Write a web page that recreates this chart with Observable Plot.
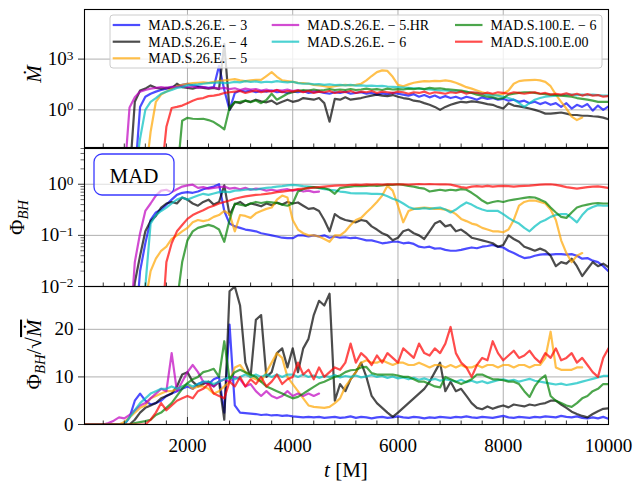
<!DOCTYPE html>
<html><head><meta charset="utf-8">
<script src="https://cdn.jsdelivr.net/npm/d3@7"></script>
<script src="https://cdn.jsdelivr.net/npm/@observablehq/plot@0.6"></script>
<style>
body{margin:0;background:#fff}
#fig{position:relative;width:635px;height:481px;font-family:"Liberation Serif",serif}
#fig svg{position:absolute;left:0}
</style></head><body><div id="fig"></div>
<script>
// sample times (M)
const t = d3.range(0, 10001, 100);
const seriesLabels = ["MAD.S.26.E. − 3","MAD.S.26.E. − 4","MAD.S.26.E. − 5","MAD.S.26.E. − 5.HR","MAD.S.26.E. − 6","MAD.S.100.E. − 6","MAD.S.100.E.00"];
const seriesColors = ["#0000ff","#000000","#ffa500","#bf00bf","#00bfbf","#008000","#ff0000"];
const xMajor = [2000,4000,6000,8000];
const xMinor = [400,800,1200,1600,2400,2800,3200,3600,4400,4800,5200,5600,6400,6800,7200,7600,8400,8800,9200,9600];
const xTickLabels = [2000,4000,6000,8000,10000];
const mdotTicks = [1,1000];
const phiTicks = [0.01,0.1,1];
const phiMinor = [0.02,0.03,0.04,0.05,0.06,0.07,0.08,0.09,0.2,0.3,0.4,0.5,0.6,0.7,0.8,0.9,2,3,4,5];
const psiTicks = [0,10,20];

// ---- panel 1: accretion rate Mdot ----
const mdot_m3 = [1e-4,1e-4,1e-4,1e-4,1e-4,1e-4,1e-4,1e-4,1e-4,1e-4,
 1e-4,1.5,6,9,12,15,18,22,25,30,
 35,28,25,22,20,22,400,15,1.0,10,
 14,12,14,11,13,12,14,11,12,10,
 12,11,13,10,11,12,10,9,11,10,
 12,9,10,11,9,10,8,9.5,8.5,10,
 9,8,7,8.5,6,7.5,5.5,7,5,6.5,
 5,6,4.5,6,5,4,5.5,4.5,5,4,
 4.5,3.5,4,3,3.5,2.5,3,2.2,2.8,2,
 2.5,1.5,2.5,1.2,2,1.5,2.2,0.9,1.8,1,
 1.6];
const mdot_m4 = [1e-4,1e-4,1e-4,1e-4,1e-4,1e-4,1e-4,1e-4,1e-4,1e-4,
 3,14,18,28,20,18,20,19,35,22,
 20,18,22,20,18,20,17,8000,1.0,3,
 2.5,3.5,3,4,3.2,2.8,3.5,2.2,3,4,
 3,3.5,5,4.5,4,5,2.5,0.2,4.5,4,
 5.5,4,4.5,5,6,7,8,7,6.5,7.5,
 6,5,4.5,3.5,3.2,2.5,2,1.5,1,1.5,
 2,2.5,3,2.8,3.2,3,2.6,2.2,2,1.5,
 1.2,2.5,1.8,1.6,1.4,1.2,1,0.8,0.6,0.6,
 0.65,0.7,0.6,0.5,0.5,0.45,0.45,0.42,0.4,0.35,
 0.28];
const mdot_m5 = [1e-4,1e-4,1e-4,1e-4,1e-4,1e-4,1e-4,1e-4,1e-4,1e-4,
 1e-4,1e-4,1e-4,0.05,3,8,12,18,25,30,
 35,38,40,42,40,45,50,55,60,65,
 55,50,55,60,60,100,170,90,55,50,
 45,40,38,35,30,28,25,22,25,28,
 30,28,30,35,55,100,170,215,200,90,
 30,25,32,40,45,50,48,52,50,55,
 50,40,30,22,18,14,11,9,8,7.5,
 9,14,35,50,55,58,60,55,45,25,
 8,3,1.2,0.4,0.25,0.35];
const mdot_m5HR = [1e-4,1e-4,1e-4,1e-4,1e-4,1e-4,1e-4,1e-4,1e-4,1.4,
 5.6,12,15,18,20,22,20,23,22,25,
 22,24,20,22,19,21,18,20,17,19,
 15,18,16,17,14,16,13,15,14,16,
 13,15,12,14,13,14];
const mdot_m6 = [1e-4,1e-4,1e-4,1e-4,1e-4,1e-4,1e-4,1e-4,1e-4,1e-4,
 1e-4,0.02,1,3,5,9,12,15,20,22,
 28,30,32,35,38,40,42,38,40,45,
 42,50,45,48,42,46,44,50,45,42,
 46,38,35,36,32,33,30,32,29,30,
 28,30,27,28,26,27,25,26,24,23,
 22,21,20,19,18,17,16,15,14,14,
 13,12,12,11,10,10,9,8,7.5,7,
 6,5,4,2.5,1.5,2.5,4,5,6,6.5,
 7,7.5,8,8,7.5,8,7.5,8,7.5,7,
 7];
const mdot_100m6 = [1e-4,1e-4,1e-4,1e-4,1e-4,1e-4,1e-4,1e-4,1e-4,1e-4,
 1e-4,1e-4,1e-4,1e-4,1e-4,1e-4,1e-4,1e-4,1e-4,0.23,
 0.34,0.3,0.29,0.3,0.25,0.19,0.12,0.07,1.4,2.8,
 3,3.5,2.8,3.6,2.5,3.8,9,4,6,9,
 11,13,15,14,16,14,15,17,15,16,
 15,17,15,16,18,16,17,15,18,16,
 17,16,18,17,19,17,20,18,19,17,
 16,15,14,12,10,8,7,6,5.5,4.5,
 5,8,9,10,11,11,10,9,8.5,8,
 7.5,7,6.5,6,5,4.5,4,3.5,3,3,
 3];
const mdot_100e00 = [1e-4,1e-4,1e-4,1e-4,1e-4,1e-4,1e-4,1e-4,1e-4,1e-4,
 1e-4,1e-4,1e-4,1e-4,1e-4,1e-4,0.1,1.3,1.5,1.8,
 2.5,3.5,4.5,5,6.5,7,8,10,11,12,
 13,10,12,14,11,13,12,15,11,13,
 12,14,11,13,10,12,11,13,10,12,
 11,13,10,12,11,13,10,12,11,10,
 12,11,9,11,10,12,9,11,10,9,
 11,10,12,9,11,10,9,10.5,9,11,
 10,9,11,10,9,10,11,9,10,8,
 9,8,9.5,7.5,9,7,8.5,7,7.5,6,
 6.5];

// ---- panel 2: magnetic flux Phi_BH ----
const phi_m3 = [0.001,0.001,0.001,0.001,0.001,0.001,0.001,0.001,0.001,0.001,
 0.001,0.02,0.07,0.2,0.28,0.32,0.4,0.5,0.62,0.68,
 0.7,0.68,0.72,0.8,0.85,0.9,1.0,0.3,0.17,0.15,
 0.14,0.13,0.125,0.12,0.11,0.105,0.1,0.095,0.09,0.088,
 0.088,0.1,0.1,0.095,0.1,0.095,0.1,0.09,0.095,0.09,
 0.092,0.088,0.09,0.085,0.08,0.08,0.075,0.07,0.072,0.075,
 0.075,0.07,0.072,0.068,0.06,0.058,0.06,0.055,0.056,0.052,
 0.05,0.05,0.052,0.055,0.058,0.056,0.06,0.062,0.065,0.06,
 0.058,0.05,0.045,0.04,0.036,0.037,0.04,0.042,0.043,0.042,
 0.043,0.043,0.042,0.043,0.04,0.035,0.036,0.032,0.03,0.025,
 0.02];
const phi_m4 = [0.001,0.001,0.001,0.001,0.001,0.001,0.001,0.001,0.001,0.001,
 0.012,0.04,0.12,0.19,0.24,0.35,0.42,0.45,0.42,0.55,
 0.5,0.42,0.38,0.45,0.5,0.4,0.45,0.95,0.25,0.4,
 0.45,0.38,0.42,0.4,0.37,0.42,0.39,0.44,0.4,0.45,
 0.42,0.44,0.38,0.33,0.34,0.3,0.2,0.12,0.26,0.22,
 0.2,0.19,0.18,0.2,0.19,0.15,0.13,0.11,0.1,0.08,
 0.09,0.12,0.13,0.11,0.1,0.085,0.12,0.17,0.19,0.15,
 0.16,0.12,0.13,0.11,0.09,0.085,0.08,0.075,0.07,0.06,
 0.065,0.1,0.085,0.075,0.06,0.055,0.05,0.055,0.05,0.04,
 0.025,0.03,0.028,0.035,0.025,0.016,0.022,0.03,0.025,0.028,
 0.024];
const phi_m5 = [0.001,0.001,0.001,0.001,0.001,0.001,0.001,0.001,0.001,0.001,
 0.001,0.001,0.005,0.02,0.035,0.05,0.06,0.085,0.1,0.12,
 0.14,0.18,0.2,0.19,0.2,0.23,0.25,0.3,0.26,0.12,
 0.25,0.24,0.22,0.27,0.3,0.33,0.35,0.5,0.6,0.55,
 0.2,0.13,0.11,0.1,0.1,0.095,0.085,0.075,0.1,0.1,
 0.12,0.16,0.2,0.22,0.28,0.35,0.45,0.6,0.93,0.75,
 0.38,0.18,0.3,0.33,0.34,0.35,0.34,0.33,0.33,0.32,
 0.3,0.26,0.21,0.19,0.17,0.16,0.14,0.13,0.12,0.12,
 0.115,0.13,0.2,0.38,0.45,0.48,0.48,0.45,0.42,0.32,
 0.2,0.08,0.045,0.03,0.04,0.045];
const phi_m5HR = [0.001,0.001,0.001,0.001,0.001,0.001,0.001,0.001,0.001,0.001,
 0.03,0.11,0.3,0.42,0.6,0.75,0.78,0.7,0.8,0.9,
 0.95,0.98,0.85,0.88,0.82,0.85,0.88,0.9,0.82,0.85,
 0.8,0.85,0.78,0.82,0.8,0.75,0.78,0.74,0.78,0.8,
 0.75,0.78,0.72,0.75,0.7,0.72];
const phi_m6 = [0.001,0.001,0.001,0.001,0.001,0.001,0.001,0.001,0.001,0.001,
 0.001,0.001,0.01,0.17,0.25,0.3,0.35,0.42,0.5,0.55,
 0.5,0.55,0.6,0.65,0.62,0.66,0.7,0.72,0.7,0.75,
 0.76,0.78,0.8,0.78,0.82,0.85,0.87,0.9,0.92,0.95,
 0.97,0.95,0.92,0.9,0.88,0.84,0.8,0.78,0.76,0.72,
 0.7,0.67,0.66,0.66,0.66,0.65,0.65,0.64,0.58,0.52,
 0.48,0.42,0.36,0.33,0.33,0.34,0.33,0.34,0.35,0.32,
 0.28,0.32,0.38,0.44,0.4,0.35,0.32,0.3,0.3,0.3,
 0.26,0.22,0.19,0.17,0.14,0.12,0.15,0.18,0.2,0.23,
 0.25,0.26,0.26,0.22,0.18,0.25,0.32,0.36,0.39,0.38,
 0.38];
const phi_100m6 = [0.001,0.001,0.001,0.001,0.001,0.001,0.001,0.001,0.001,0.001,
 0.001,0.001,0.001,0.001,0.001,0.001,0.001,0.001,0.005,0.03,
 0.08,0.12,0.14,0.15,0.16,0.15,0.13,0.075,0.2,0.42,
 0.4,0.38,0.42,0.45,0.43,0.45,0.44,0.43,0.4,0.38,
 0.42,0.72,0.8,0.86,0.88,0.85,0.84,0.78,0.65,0.84,
 0.88,0.9,0.93,0.92,0.93,0.95,0.93,0.95,0.98,0.97,
 1.0,0.97,0.93,0.9,0.85,0.82,0.72,0.75,0.78,0.75,
 0.78,0.76,0.8,0.78,0.68,0.58,0.48,0.42,0.45,0.47,
 0.45,0.48,0.5,0.52,0.54,0.56,0.55,0.5,0.45,0.35,
 0.28,0.23,0.22,0.28,0.35,0.38,0.4,0.42,0.43,0.42,
 0.42];
const phi_100e00 = [0.001,0.001,0.001,0.001,0.001,0.001,0.001,0.001,0.001,0.001,
 0.001,0.001,0.001,0.001,0.001,0.001,0.03,0.07,0.12,0.16,
 0.21,0.25,0.28,0.31,0.35,0.38,0.42,0.45,0.48,0.52,
 0.55,0.58,0.6,0.62,0.63,0.65,0.67,0.7,0.72,0.74,
 0.77,0.8,0.82,0.84,0.86,0.88,0.9,0.92,0.94,0.95,
 0.95,0.97,0.98,0.97,0.99,0.98,1.0,0.98,0.99,1.0,
 0.99,1.0,0.98,1.0,1.01,1.0,1.01,1.0,0.99,1.0,
 0.98,0.93,0.88,0.85,0.9,0.92,0.9,0.93,0.9,0.92,
 0.93,0.92,0.9,0.92,0.93,0.94,0.96,0.98,0.99,1.0,
 0.97,0.93,0.88,0.85,0.82,0.85,0.88,0.9,0.91,0.88,
 0.85];

// ---- panel 3: normalised flux Phi_BH / sqrt(Mdot) ----
const psi_m3 = [0,0,0,0,0,0,0,0,0,1.5,
 5,6.5,5,4.2,4.5,5,6,6.5,7,7.5,
 8,7.5,8.5,9,8.5,9.5,10,2.5,21,4,
 2.5,2.4,2.3,2.2,2.0,2.1,1.9,2.0,1.8,1.9,
 1.7,1.6,1.5,1.6,1.5,1.6,1.4,1.5,1.6,1.4,
 1.5,1.7,1.4,1.6,1.5,1.3,1.5,1.6,1.4,1.5,
 1.7,1.5,1.4,1.6,1.5,1.3,1.5,1.4,1.6,1.5,
 1.4,1.6,1.5,1.7,1.5,1.4,1.6,1.5,1.4,1.6,
 1.8,1.5,1.4,1.6,1.5,1.4,1.6,1.5,1.7,1.6,
 1.5,1.8,1.6,1.5,1.7,1.4,1.3,1.5,1.3,1.6,
 1.2];
const psi_m4 = [0,0,0,0,0,0,0,0,0,0,
 1,2.5,3.5,4,4.5,5.5,6,6.5,8,10.5,
 11,9,8,8.5,9,8,9,1,28,29,
 25,13,10,22,23,10,11,15,16,12,
 16,11,16,18,23,26,25,27.5,5,8.5,
 7,9.5,11,13,10,6,4.5,3.5,2.5,1.6,
 2.5,3.5,4.5,5.5,6.5,7.5,9,11,13,7,
 9,7,7.5,6,4.5,3.5,3.2,3.8,3.3,3.7,
 4,3.6,4.2,4,3.8,4.2,4,4.3,4.5,5,
 5,4.2,3.5,2.7,2.2,1.8,1.5,2.2,2.8,3.3,
 3.4];
const psi_m5 = [0,0,0,0,0,0,0,0,0.5,1.5,
 2.5,3.5,4,5.5,6,6.5,7,7,7.5,8,
 8.5,7.5,8,8,7.5,6.5,7,8,9,12,
 12.5,11,10,9.5,9,11,13,15,14,10,
 8.5,7,5.5,4,3.7,3.6,3.5,3.7,4.5,5.5,
 8,9.5,11,13,13.5,13,13,13.5,13,12.5,
 13,13,12.5,12.5,13,12.5,12,12.5,12.5,12,
 12.5,12,12.5,12,12,12.5,12,12.5,12.5,12,
 12.5,12.5,12,12.5,12.5,12,12.5,12.5,14,19.5,
 12,11.5,11.5,11.5,12,12];
const psi_m5HR = [0,0,0,0,0,0.3,0.8,1.5,1.3,2,
 3,4,4.5,5.5,6.5,7.5,7,15,7,9,
 11,12.5,11,9,8.5,8,9,9.5,9,10,
 9.5,8,8.5,7,6,7,6,5.5,6,7,
 6,6.5,6,6.5,6,6.5];
const psi_m6 = [0,0,0,0,0,0,0,0,0,1.5,
 3,4.5,5.5,6.5,7,7.5,7.5,8,7.5,8,
 8.5,8,8.5,9,9,8.5,9,9.5,10,9.5,
 10,10.5,10,10.5,10,10.5,10,10.5,10,10.5,
 10.5,10,10.5,10,10.3,9.8,10.2,10,10.4,9.9,
 10.2,10,10.3,9.9,10.1,10.4,10,10.2,9.8,10.1,
 9.7,9.9,9.5,9.8,9.4,9.7,9.3,9.6,9.2,9.5,
 9.3,9.0,9.4,8.9,9.2,8.8,9.1,8.7,9.0,9.3,
 9.5,9.2,9.4,9.0,9.3,9.6,9.2,9.0,8.8,8.6,
 8.4,8.6,8.3,8.5,8.7,9.0,9.3,9.6,9.9,10.2,
 10.2];
const psi_100m6 = [0,0,0,0,0,0,0,0,0,0,
 0.3,0.5,0.7,1,2,2.5,3.5,4.5,6,7.5,
 8.7,9.5,10,11,11.3,11.7,10,17.5,9.5,11,
 11.5,11,10.5,10,9,8,7.5,7,6.5,6,
 5.5,5.8,6.5,7.2,7.9,8.6,9,9.5,10,10.3,
 11,11.4,11.5,12,12.1,10.8,10.5,10.5,10.5,10.5,
 10.3,10,10,9.5,9,9,8.5,8,7.8,10,
 9.5,9,8.5,9,9.5,10.5,10.5,10,9.5,9.5,
 9.3,9,9,8.5,7,5.8,8,9.5,10.3,6,
 5,4.5,4,3.7,4.5,5.5,6,7,7.5,8.5,
 8.5];
const psi_100e00 = [0,0,0,0,0,0,0,0,0,0,
 0,0,0,1,2.5,4.5,3,4,5,5.5,
 6,5.5,7,7.5,8.5,6.5,6,5.5,9,8,
 10,8,9.5,8.5,10,8,9,10.5,8.5,9.5,
 10,13,10.5,11.5,9.5,12,10,11,12,11.5,
 13,17,13,15,14,12.5,14.5,13,15,14,
 13,16,15,14,17,15,14.5,16,15,17,
 20.5,15,13,12,10,12.5,14,13.5,17.5,15,
 13.5,14.5,15.5,14,14.5,15.5,14,13,15,14,
 16,13.5,14,15,13,14,12.5,11,10,14,
 16];

const fig = document.getElementById("fig");
const rows = arr => t.map((x, i) => ({t: x, v: i < arr.length ? arr[i] : null}));
const fmtLog = d => "10^" + String(Math.round(Math.log10(d))).replace("-", "−");

function panel({top, height, mt, mb, y, series, gridY, yMajor, yMinor, fmt, xLabels}) {
  const inner = height - mt - mb;
  const marks = [
    Plot.gridX(xMajor, {stroke: "#b0b0b0", strokeOpacity: 1, strokeWidth: 1}),
    Plot.gridY(gridY, {stroke: "#b0b0b0", strokeOpacity: 1, strokeWidth: 1}),
    ...series.map((arr, k) => Plot.line(rows(arr), {x: "t", y: "v", stroke: seriesColors[k], strokeOpacity: 0.7, strokeWidth: 2.2, clip: true})),
    Plot.tickX(xMinor, {x: d => d, insetTop: inner - 3.5, stroke: "black", strokeWidth: 0.8}),
    Plot.tickX(xMajor, {x: d => d, insetTop: inner - 7, stroke: "black", strokeWidth: 0.8}),
    Plot.axisY(yMajor, {tickSize: 6, tickPadding: 5, tickFormat: fmt, strokeWidth: 0.8, label: null}),
    ...(yMinor ? [Plot.axisY(yMinor, {tickSize: 3.5, tickFormat: () => "", strokeWidth: 0.6, label: null})] : []),
    ...(xLabels ? [Plot.axisX(xLabels, {tickSize: 0, tickPadding: 14, tickFormat: d => String(d), label: null})] : []),
    Plot.frame({stroke: "black", strokeWidth: 1.1})
  ];
  const svg = Plot.plot({
    width: 635, height, marginLeft: 84, marginRight: 27, marginTop: mt, marginBottom: mb,
    x: {domain: [44, 10000], axis: null, label: null},
    y: {...y, axis: null, label: null},
    marks,
    style: {fontFamily: "'Liberation Serif', serif", fontSize: "19px", background: "transparent", overflow: "visible"}
  });
  svg.style.top = top + "px";
  fig.appendChild(svg);
  // superscript powers of ten
  d3.select(svg).selectAll("text").each(function () {
    const m = /^10\^(.+)$/.exec(this.textContent);
    if (m) {
      const el = d3.select(this);
      el.text("10");
      el.append("tspan").attr("dy", "-0.42em").attr("font-size", "0.7em").text(m[1]);
    }
  });
  return svg;
}

const svg1 = panel({top: 0, height: 148, mt: 9, mb: 1, y: {type: "log", domain: [0.006, 8.5e5]},
  series: [mdot_m3, mdot_m4, mdot_m5, mdot_m5HR, mdot_m6, mdot_100m6, mdot_100e00],
  gridY: mdotTicks, yMajor: mdotTicks, yMinor: null, fmt: fmtLog});
const svg2 = panel({top: 148, height: 138, mt: 0, mb: 0, y: {type: "log", domain: [0.01, 5]},
  series: [phi_m3, phi_m4, phi_m5, phi_m5HR, phi_m6, phi_100m6, phi_100e00],
  gridY: [0.1, 1], yMajor: phiTicks, yMinor: phiMinor, fmt: fmtLog});
const svg3 = panel({top: 286, height: 195, mt: 0, mb: 57, y: {type: "linear", domain: [0, 29]},
  series: [psi_m3, psi_m4, psi_m5, psi_m5HR, psi_m6, psi_100m6, psi_100e00],
  gridY: [10, 20], yMajor: psiTicks, yMinor: null, fmt: d => String(d), xLabels: xTickLabels});

// legend (panel 1)
const leg = d3.select(svg1).append("g");
leg.append("rect").attr("x", 110).attr("y", 15).attr("width", 492).attr("height", 53).attr("rx", 3)
  .attr("fill", "white").attr("fill-opacity", 0.8).attr("stroke", "#cccccc").attr("stroke-width", 1);
const legCols = [112.7, 271.7, 455], legRows = [25, 41.7, 58.3];
const legPos = [[0,0],[0,1],[0,2],[1,0],[1,1],[2,0],[2,1]];
seriesLabels.forEach((lab, k) => {
  const x = legCols[legPos[k][0]], yy = legRows[legPos[k][1]];
  leg.append("line").attr("x1", x).attr("x2", x + 27.5).attr("y1", yy).attr("y2", yy)
    .attr("stroke", seriesColors[k]).attr("stroke-opacity", 0.7).attr("stroke-width", 2.2);
  leg.append("text").attr("x", x + 35.6).attr("y", yy + 4.8).attr("text-anchor", "start")
    .attr("font-size", 14).text(lab);
});

// y labels
function ylab(svg, x, y) {
  return d3.select(svg).append("text").attr("transform", `translate(${x},${y}) rotate(-90)`)
    .attr("text-anchor", "middle").attr("font-size", 21);
}
ylab(svg1, 41, 74).append("tspan").attr("font-style", "italic").text("Ṁ");
const l2 = ylab(svg2, 24, 69.5);
l2.append("tspan").text("Φ");
l2.append("tspan").attr("font-style", "italic").attr("font-size", "0.7em").attr("dy", "0.25em").text("BH");
const l3 = ylab(svg3, 41, 68.5);
l3.append("tspan").text("Φ");
l3.append("tspan").attr("font-style", "italic").attr("font-size", "0.7em").attr("dy", "0.25em").text("BH");
l3.append("tspan").attr("dy", "-0.175em").text("/√");
l3.append("tspan").attr("font-style", "italic").style("text-decoration", "overline").text("Ṁ");

// x label
const xl = d3.select(svg3).append("text").attr("x", 346).attr("y", 190.5).attr("text-anchor", "middle").attr("font-size", 21);
xl.append("tspan").attr("font-style", "italic").text("t");
xl.append("tspan").text(" [M]");

// MAD box (panel 2)
const mad = d3.select(svg2).append("g");
mad.append("rect").attr("x", 94).attr("y", 6).attr("width", 80).attr("height", 41).attr("rx", 8)
  .attr("fill", "white").attr("fill-opacity", 0.6).attr("stroke", "#3a3aff").attr("stroke-width", 1.3);
mad.append("text").attr("x", 134).attr("y", 34.5).attr("text-anchor", "middle").attr("font-size", 21).text("MAD");
</script></body></html>
